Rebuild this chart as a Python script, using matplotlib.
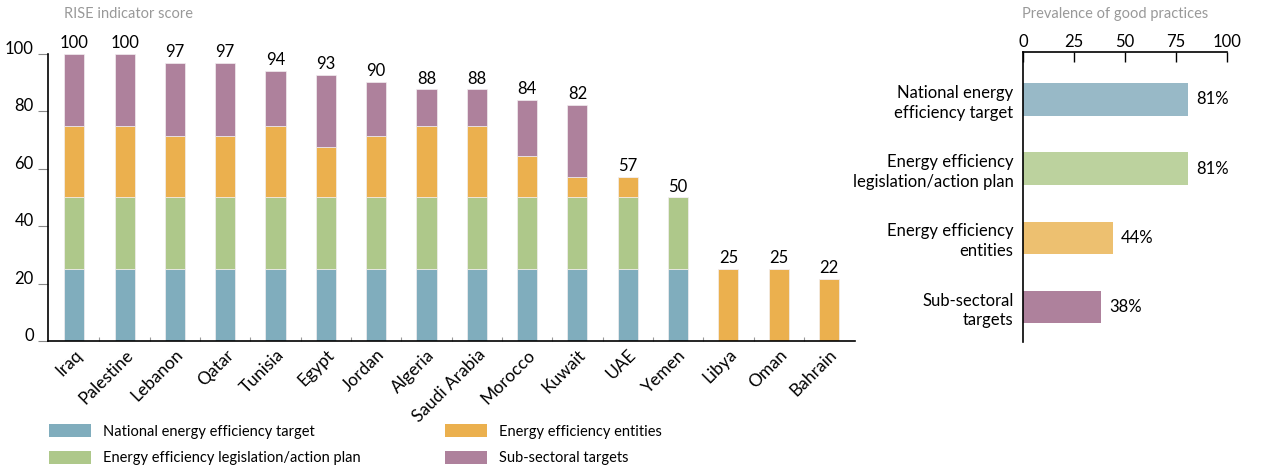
import numpy as np
import matplotlib.pyplot as plt
import matplotlib.transforms as mtransforms
from matplotlib.patches import Patch

plt.rcParams['font.family'] = ['Lato', 'DejaVu Sans']

countries = ['Iraq', 'Palestine', 'Lebanon', 'Qatar', 'Tunisia', 'Egypt', 'Jordan',
             'Algeria', 'Saudi Arabia', 'Morocco', 'Kuwait', 'UAE', 'Yemen',
             'Libya', 'Oman', 'Bahrain']
national_target = [25, 25, 25, 25, 25, 25, 25, 25, 25, 25, 25, 25, 25, 0, 0, 0]
legislation = [25, 25, 25, 25, 25, 25, 25, 25, 25, 25, 25, 25, 25, 0, 0, 0]
entities = [25, 25, 21.5, 21.5, 25, 17.6, 21.5, 25, 25, 14.5, 7.2, 7.1, 0, 25, 25, 21.6]
subsectoral = [25, 25, 25.2, 25.2, 18.9, 25, 18.8, 12.6, 12.6, 19.3, 25, 0, 0, 0, 0, 0]

series_names = ['National energy efficiency target',
                'Energy efficiency legislation/action plan',
                'Energy efficiency entities',
                'Sub-sectoral targets']
colors = ['#80adbd', '#aec88a', '#ebb04e', '#ae819c']
colors_light = ['#98b9c7', '#bcd29e', '#edc070', '#ae819c']

practice_labels = ['National energy\nefficiency target',
                   'Energy efficiency\nlegislation/action plan',
                   'Energy efficiency\nentities',
                   'Sub-sectoral\ntargets']
prevalence = [81, 81, 44, 38]

W, H = 1275, 474
fig = plt.figure(figsize=(W / 100, H / 100), dpi=100)

# stacked RISE scores
ax = fig.add_axes([48.3 / W, (H - 341) / H, 806.7 / W, 287.3 / H])
x = np.arange(len(countries))
bottom = np.zeros(len(countries))
for vals, c in zip([national_target, legislation, entities, subsectoral], colors):
    vals = np.array(vals, dtype=float)
    ax.bar(x, vals, 0.4, bottom=bottom, color=c, edgecolor='#f2eef0', linewidth=0.5)
    bottom += vals

for xi, total in zip(x, bottom):
    ax.annotate(f'{round(total):d}', (xi, total), xytext=(0, 2),
                textcoords='offset points', ha='center', va='bottom',
                fontsize=12, annotation_clip=False)

ax.set_xlim(-0.517, 15.517)
ax.set_ylim(0, 100)
ax.set_yticks([0, 20, 40, 60, 80, 100])
ax.tick_params(axis='y', length=7.5, width=0.8, color='#888888', labelsize=12, pad=3)
for lbl in ax.get_yticklabels():
    lbl.set_va('baseline')
ax.set_xticks(x)
ax.set_xticklabels(countries, rotation=45, ha='right', rotation_mode='anchor', fontsize=12.5)
ax.tick_params(axis='x', length=0, pad=4)
ax.set_xticks(np.arange(0.5, 15.5, 1), minor=True)
ax.tick_params(axis='x', which='minor', direction='in', length=3, width=0.8, color='#999999')
for s in ['top', 'right']:
    ax.spines[s].set_visible(False)
for s in ['left', 'bottom']:
    ax.spines[s].set_linewidth(1.2)

fig.text(64 / W, 1 - 14 / H, 'RISE indicator score', color='#999999', fontsize=10.5,
         ha='left', va='center')

# prevalence of good practices
ax2 = fig.add_axes([1023.3 / W, (H - 341.7) / H, 203.3 / W, 289.4 / H])
y = np.arange(len(prevalence))
ax2.barh(y, prevalence, 0.467, color=colors_light)
for yi, v in zip(y, prevalence):
    ax2.annotate(f'{v}%', (v, yi), xytext=(6, 0), textcoords='offset points',
                 ha='left', va='center', fontsize=12)
ax2.set_xlim(0, 100)
ax2.set_ylim(3.5, -0.68)
ax2.set_xticks([0, 25, 50, 75, 100])
ax2.xaxis.tick_top()
ax2.tick_params(axis='x', direction='in', length=7, width=1, labelsize=12, pad=2)
ax2.set_yticks(y)
ax2.set_yticklabels(practice_labels, fontsize=12, ha='right', linespacing=1.3)
ax2.tick_params(axis='y', length=0, pad=7)
for s in ['bottom', 'right']:
    ax2.spines[s].set_visible(False)
for s in ['left', 'top']:
    ax2.spines[s].set_linewidth(1.2)

fig.text(1022 / W, 1 - 14 / H, 'Prevalence of good practices', color='#999999',
         fontsize=10.5, ha='left', va='center')

handles = [Patch(facecolor=c) for c in colors]
fig.legend(handles, series_names, ncol=2, loc='upper left',
           bbox_to_anchor=(49 / W, 1 - 424 / H), frameon=False, fontsize=10.5,
           handlelength=2.9, handleheight=1.03, handletextpad=0.8,
           columnspacing=5.8, labelspacing=0.82, borderpad=0, borderaxespad=0)

fig.savefig('out.png', dpi=100)
